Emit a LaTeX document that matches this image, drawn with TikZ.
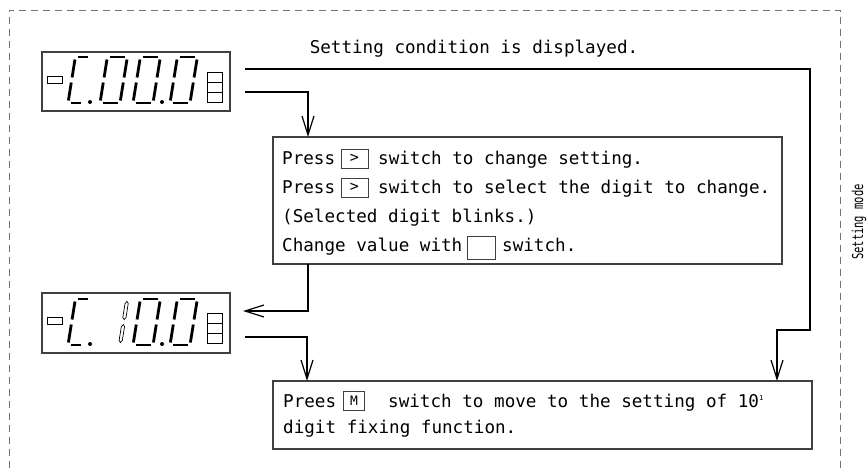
\documentclass[tikz,border=0pt]{standalone}
\usepackage{fontspec}
\setmainfont{DejaVu Sans Mono}
\usetikzlibrary{arrows.meta}
\def\sgW{20}\def\sgH{46}\def\sgg{2.5}
\pgfkeys{/seg/.cd,
 a/.code={\draw[seg] (\sgg,-\sgH) -- (\sgW-\sgg,-\sgH);},
 b/.code={\draw[seg] (\sgW,-\sgH+\sgg) -- (\sgW,-\sgH/2-\sgg);},
 c/.code={\draw[seg] (\sgW,-\sgH/2+\sgg) -- (\sgW,-\sgg);},
 d/.code={\draw[seg] (\sgg,0) -- (\sgW-\sgg,0);},
 e/.code={\draw[seg] (0,-\sgH/2+\sgg) -- (0,-\sgg);},
 f/.code={\draw[seg] (0,-\sgH+\sgg) -- (0,-\sgH/2-\sgg);},
 g/.code={\draw[seg] (\sgg,-\sgH/2) -- (\sgW-\sgg,-\sgH/2);},
 hb/.code={\draw[hseg] (\sgW,-\sgH+\sgg) -- (\sgW+1.6,-\sgH+\sgg+2) -- (\sgW+1.6,-\sgH/2-\sgg-2) -- (\sgW,-\sgH/2-\sgg) -- (\sgW-1.6,-\sgH/2-\sgg-2) -- (\sgW-1.6,-\sgH+\sgg+2) -- cycle;},
 hc/.code={\draw[hseg] (\sgW,-\sgH/2+\sgg) -- (\sgW+1.6,-\sgH/2+\sgg+2) -- (\sgW+1.6,-\sgg-2) -- (\sgW,-\sgg) -- (\sgW-1.6,-\sgg-2) -- (\sgW-1.6,-\sgH/2+\sgg+2) -- cycle;},
}
\newcommand\sevseg[3]{\begin{scope}[shift={(#1,#2)}, xslant=0.16]\pgfkeys{/seg/.cd,#3}\end{scope}}
\newcommand\sevsegC[2]{\begingroup\def\sgW{15}\sevseg{#1}{#2}{a,d,e,f}\endgroup}
\begin{document}
\begin{tikzpicture}[x=1pt,y=-1pt,
  box/.style={draw=black!75, line width=1.1pt, rectangle, inner sep=0pt},
  txt/.style={font=\fontsize{17.6}{20}\selectfont, inner sep=0pt, anchor=base west},
  btn/.style={draw=black!75, line width=0.9pt, inner sep=0pt, font=\fontsize{15}{18}\selectfont},
  conn/.style={line width=1.2pt, -{Straight Barb[length=19pt,width=12pt,line width=1.2pt]}},
  seg/.style={line width=2.8pt},
  hseg/.style={line width=0.7pt},
  ind/.style={draw, line width=0.9pt, inner sep=0pt, minimum width=15pt},
]
\useasboundingbox (0,0) rectangle (867,472);
\clip (0,0) rectangle (867,472);
% dashed frame
\draw[black!55, line width=1pt, dash pattern=on 7pt off 5pt] (9,480) -- (9,10) -- (840,10) -- (840,480);
\node[rotate=90, font=\fontsize{15}{17}\selectfont, inner sep=0pt] (sm) at (859,222) {\scalebox{0.7}[1]{Setting mode}};
\node[txt, anchor=base] (title) at (474,53) {Setting condition is displayed.};

% display 1
\node[box, minimum width=188pt, minimum height=59pt] (d1) at (136,81.5) {};
\node[ind, minimum height=7pt] (d1l) at (54.5,79.5) {};
\node[ind, minimum height=10pt] (d1r1) at (214.5,77) {};
\node[ind, minimum height=10pt] (d1r2) at (214.5,87) {};
\node[ind, minimum height=10pt] (d1r3) at (214.5,97) {};
\sevsegC{68}{103}
\fill (90,102) circle (2pt);
\sevseg{100}{103}{a,b,c,d,e,f}
\sevseg{133}{103}{a,b,c,d,e,f}
\fill (162,102) circle (2pt);
\sevseg{170}{103}{a,b,c,d,e,f}

% display 2
\node[box, minimum width=188pt, minimum height=60pt] (d2) at (136,323) {};
\node[ind, minimum height=7pt] (d2l) at (54.5,321) {};
\node[ind, minimum height=10pt] (d2r1) at (214.5,318) {};
\node[ind, minimum height=10pt] (d2r2) at (214.5,328) {};
\node[ind, minimum height=10pt] (d2r3) at (214.5,338) {};
\sevsegC{68}{345}
\fill (90,344) circle (2pt);
\sevseg{100}{345}{hb,hc}
\sevseg{133}{345}{a,b,c,d,e,f}
\fill (162,344) circle (2pt);
\sevseg{170}{345}{a,b,c,d,e,f}

% middle box
\node[box, minimum width=509pt, minimum height=127pt] (mb) at (527.5,200.5) {};
\node[txt] (m1a) at (282,164) {Press};
\node[btn, minimum width=27pt, minimum height=19pt] (k1) at (354.5,158.5) {>};
\node[txt] (m1b) at (378,164) {switch to change setting.};
\node[txt] (m2a) at (282,193) {Press};
\node[btn, minimum width=27pt, minimum height=19pt] (k2) at (354.5,187.5) {>};
\node[txt] (m2b) at (378,193) {switch to select the digit to change.};
\node[txt] (m3) at (282,222) {(Selected digit blinks.)};
\node[txt] (m4a) at (282,251) {Change value with};
\node[btn, minimum width=28pt, minimum height=23pt] (k4) at (481,247.5) {};
\node[txt] (m4b) at (502,251) {switch.};

% bottom box
\node[box, minimum width=539pt, minimum height=68pt] (bb) at (542.5,415) {};
\node[txt] (b1a) at (283,407) {Prees};
\node[btn, minimum width=21pt, minimum height=19pt, font=\fontsize{13}{15}\selectfont] (kM) at (354,401) {M};
\node[txt] (b1b) at (388,407) {switch to move to the setting of 10\raisebox{7pt}{\fontsize{7}{8}\selectfont 1}};
\node[txt] (b2) at (283,433) {digit fixing function.};

% connectors
\coordinate (s1) at (245,69);
\coordinate (s2) at (245,92);
\coordinate (s4) at (245,337);
\draw[conn] (s1) -- (810,69) -- (810,330) -- (777,330) -- (777,381);
\draw[conn] (s2) -- (308,92) -- (308,137);
\draw[conn] (308,264) -- (308,311) -- (243,311);
\draw[conn] (s4) -- (307,337) -- (307,381);
\end{tikzpicture}
\end{document}
